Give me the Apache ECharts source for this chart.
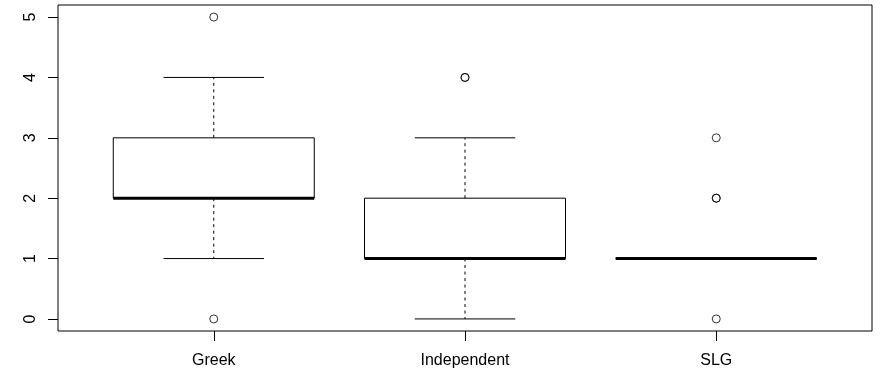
<!DOCTYPE html>
<html>
<head>
<meta charset="utf-8">
<script src="https://cdn.jsdelivr.net/npm/echarts@6/dist/echarts.min.js"></script>
<style>
  html, body { margin: 0; padding: 0; background: #fff; }
  #chart { width: 880px; height: 370px; }
</style>
</head>
<body>
<div id="chart"></div>
<script>
// Five-number summaries per group, R boxplot style
var categories  = ['Greek', 'Independent', 'SLG'];
var whiskerLow  = [1, 0, 1];
var lowerHinge  = [2, 1, 1];
var medians     = [2, 1, 1];
var upperHinge  = [3, 2, 1];
var whiskerHigh = [4, 3, 1];
// Outlying points (repeats are overplotted values)
var outliers = [
  [0, 5],
  [4, 4],
  [0, 2, 2, 3]
];
var yTicks = [0, 1, 2, 3, 4, 5];

var BOX_WIDTH = 0.8;
var FONT = '"Liberation Sans", Arial, Helvetica, sans-serif';

var boxData = categories.map(function (c, i) {
  return [i + 1, whiskerLow[i], lowerHinge[i], medians[i], upperHinge[i], whiskerHigh[i]];
});
var outlierData = [];
outliers.forEach(function (vals, i) {
  vals.forEach(function (v) { outlierData.push([i + 1, v]); });
});

function renderBox(params, api) {
  var x = api.value(0);
  var lo = api.coord([x, api.value(1)]);
  var q1 = api.coord([x, api.value(2)]);
  var md = api.coord([x, api.value(3)]);
  var q3 = api.coord([x, api.value(4)]);
  var hi = api.coord([x, api.value(5)]);
  var w = api.size([BOX_WIDTH, 0])[0];
  var cx = lo[0];
  var half = w / 2, capHalf = w / 4;
  var thin = { stroke: '#000', lineWidth: 1 };
  var dash = { stroke: '#000', lineWidth: 1, lineDash: [3, 3.5] };
  return {
    type: 'group',
    children: [
      { type: 'line', shape: { x1: cx, y1: q3[1], x2: cx, y2: hi[1] }, style: dash },
      { type: 'line', shape: { x1: cx, y1: q1[1], x2: cx, y2: lo[1] }, style: dash },
      { type: 'line', shape: { x1: cx - capHalf, y1: hi[1], x2: cx + capHalf, y2: hi[1] }, style: thin },
      { type: 'line', shape: { x1: cx - capHalf, y1: lo[1], x2: cx + capHalf, y2: lo[1] }, style: thin },
      { type: 'rect', shape: { x: cx - half, y: q3[1], width: w, height: q1[1] - q3[1] },
        style: { fill: null, stroke: '#000', lineWidth: 1 } },
      { type: 'line', shape: { x1: cx - half, y1: md[1], x2: cx + half, y2: md[1] },
        style: { stroke: '#000', lineWidth: 3 } }
    ]
  };
}

var chart = echarts.init(document.getElementById('chart'), null, { renderer: 'canvas' });
chart.setOption({
  animation: false,
  backgroundColor: '#fff',
  grid: {
    left: 58, right: 8, top: 5, bottom: 39,
    show: true, borderColor: '#000', borderWidth: 1, backgroundColor: 'transparent',
    containLabel: false, outerBoundsMode: 'none'
  },
  xAxis: {
    type: 'value', min: 0.38, max: 3.62,
    axisLine: { show: false, onZero: false },
    splitLine: { show: false },
    axisTick: { show: true, inside: false, length: 10, customValues: [1, 2, 3],
      lineStyle: { color: '#000', width: 1 } },
    axisLabel: { customValues: [1, 2, 3], margin: 22, color: '#000', fontSize: 16, fontFamily: FONT,
      formatter: function (v) { return categories[Math.round(v) - 1]; } }
  },
  yAxis: {
    type: 'value', min: -0.2, max: 5.2,
    axisLine: { show: false, onZero: false },
    splitLine: { show: false },
    axisTick: { show: true, inside: false, length: 10, customValues: yTicks,
      lineStyle: { color: '#000', width: 1 } },
    axisLabel: { customValues: yTicks, rotate: 90, margin: 19, color: '#000', fontSize: 16, fontFamily: FONT }
  },
  series: [
    {
      type: 'custom',
      renderItem: renderBox,
      data: boxData,
      encode: { x: 0, y: [1, 2, 3, 4, 5] },
      silent: true
    },
    {
      type: 'scatter',
      data: outlierData,
      symbol: 'circle',
      symbolSize: 8,
      itemStyle: { color: 'rgba(0,0,0,0)', borderColor: '#000', borderWidth: 1 },
      silent: true
    }
  ]
});
</script>
</body>
</html>
